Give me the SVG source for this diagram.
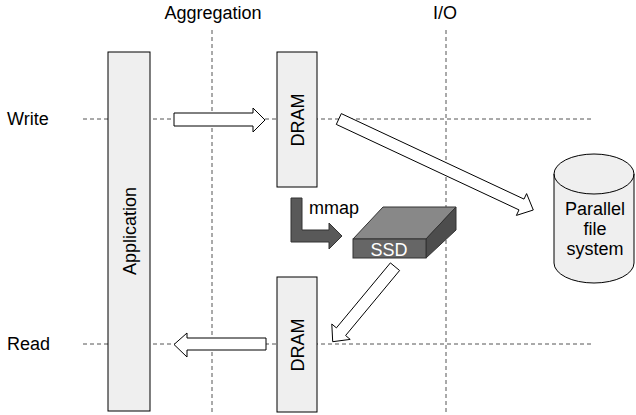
<svg xmlns="http://www.w3.org/2000/svg" width="636" height="415" viewBox="0 0 636 415">
<style>
text{font-family:"Liberation Sans",Arial,sans-serif;font-size:18px;fill:#000}
.guide{stroke:#555;stroke-width:1;stroke-dasharray:4,3;fill:none}
.box{fill:#efefef;stroke:#000;stroke-width:1}
.arrow{fill:#fff;stroke:#000;stroke-width:1}
</style>
<rect width="636" height="415" fill="#fff"/>
<g id="guides">
<line class="guide" x1="212" y1="30" x2="212" y2="415"/>
<line class="guide" x1="446" y1="30" x2="446" y2="415"/>
<line class="guide" x1="83" y1="119" x2="593" y2="119"/>
<line class="guide" x1="83" y1="344" x2="593" y2="344"/>
<text x="213" y="19" text-anchor="middle">Aggregation</text>
<text x="445" y="19" text-anchor="middle">I/O</text>
<text x="7" y="125">Write</text>
<text x="7" y="350">Read</text>
</g>
<g id="application">
<rect class="box" x="108" y="52" width="42" height="359"/>
<text transform="translate(136,231) rotate(-90)" text-anchor="middle">Application</text>
</g>
<g id="dram-write">
<rect class="box" x="277" y="52" width="40" height="135"/>
<text transform="translate(303.5,120) rotate(-90)" text-anchor="middle">DRAM</text>
</g>
<g id="dram-read">
<rect class="box" x="277" y="277" width="40" height="135"/>
<text transform="translate(303.5,345) rotate(-90)" text-anchor="middle">DRAM</text>
</g>
<g id="ssd">
<polygon points="353,239 383,207 456,207 426,239" fill="#888" stroke="#333" stroke-width="1"/>
<polygon points="426,239 456,207 456,230 426,258" fill="#4d4d4d" stroke="#333" stroke-width="1"/>
<rect x="353" y="239" width="73" height="19" fill="#666" stroke="#333" stroke-width="1"/>
<text x="389" y="256" text-anchor="middle" style="fill:#fff">SSD</text>
</g>
<g id="pfs">
<path d="M554,174 L554,263 A40,20 0 0 0 634,263 L634,174 A40,20 0 0 0 554,174 Z" class="box"/>
<path d="M554,174 A40,20 0 0 0 634,174" fill="none" stroke="#000" stroke-width="1"/>
<text x="595" y="215" text-anchor="middle">Parallel</text>
<text x="595" y="235" text-anchor="middle">file</text>
<text x="595" y="255" text-anchor="middle">system</text>
</g>
<g id="connectors">
<polygon class="arrow" points="174,113 253,113 253,108 265,120 253,132 253,126 174,126"/>
<polygon class="arrow" points="266,338 187,338 187,333 174,344.5 187,357 187,350 266,350"/>
<polygon class="arrow" points="341.3,113.6 524,199.1 526.6,193.6 533.3,210 516.4,215.4 519,209.9 336.3,124.4"/>
<polygon class="arrow" points="390.4,262.9 399.6,270.5 345.6,335.5 350.2,339.4 332.7,341.7 331.8,324 336.4,327.9"/>
<polygon points="291,198 302,198 302,230 329,230 329,223 342,236 329,249 329,242 291,242" fill="#595959" stroke="#333" stroke-width="1"/>
<text x="309" y="214">mmap</text>
</g>
</svg>
